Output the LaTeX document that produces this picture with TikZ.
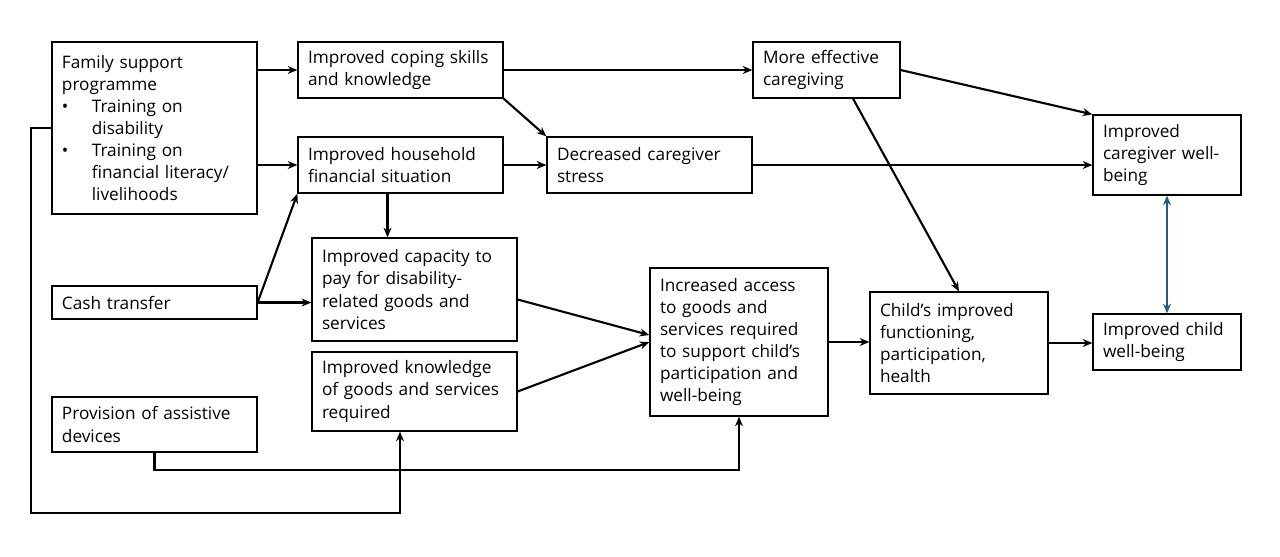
\documentclass[tikz,border=0pt]{standalone}
\usepackage{fontspec}
\setmainfont{Open Sans}
\usetikzlibrary{arrows.meta,calc}
\definecolor{bluearr}{RGB}{31,94,126}
\newcommand\bx[6]{%
  \pgfmathsetmacro\bxw{(#4-#2)*0.02}%
  \pgfmathsetmacro\bxh{(#5-#3)*0.02}%
  \pgfmathsetmacro\bxt{(#4-#2-20)*0.02}%
  \node[box,minimum width=\bxw cm,minimum height=\bxh cm,text width=\bxt cm] (#1) at ({(#2+#4)/2},{(#3+#5)/2}) {#6};}
\newcommand\bl{\makebox[17pt][l]{\textbullet}}
\newcommand\ind{\hspace*{17pt}}
\begin{document}
\begin{tikzpicture}[x=0.02cm,y=-0.02cm,
  box/.style={draw,line width=0.7pt,rectangle,align=left,inner xsep=0.2cm,inner ysep=0pt,font=\fontsize{9.8pt}{12.6pt}\selectfont},
  arr/.style={line width=1.2pt,-{Stealth[length=5.5pt,width=4.5pt]}},
  barr/.style={line width=1.2pt,bluearr,{Stealth[length=5.5pt,width=4.5pt]}-{Stealth[length=5.5pt,width=4.5pt]}}]
\useasboundingbox[fill=white] (0,0) rectangle (1280,556);
\bx{fam}{52}{42}{257}{214}{Family support\\programme\\\bl Training on\\\ind disability\\\bl Training on\\\ind financial literacy/\\\ind livelihoods}
\bx{coping}{298}{42}{503}{98}{Improved coping skills\\and knowledge}
\bx{more}{753}{42}{900}{98}{More effective\\caregiving}
\bx{hh}{298}{137}{503}{193}{Improved household\\financial situation}
\bx{stress}{547}{137}{752}{193}{Decreased caregiver\\stress}
\bx{cgwb}{1093}{115}{1241}{195}{Improved\\caregiver well-\\being}
\bx{cash}{52}{286}{257}{319}{Cash transfer}
\bx{cap}{312}{238}{517}{341}{Improved capacity to\\pay for disability-\\related goods and\\services}
\bx{know}{312}{352}{517}{431}{Improved knowledge\\of goods and services\\required}
\bx{assist}{52}{397}{257}{452}{Provision of assistive\\devices}
\bx{access}{650}{268}{828}{416}{Increased access\\to goods and\\services required\\to support child’s\\participation and\\well-being}
\bx{child}{870}{292}{1048}{394}{Child’s improved\\functioning,\\participation,\\health}
\bx{cwb}{1093}{314}{1241}{370}{Improved child\\well-being}
% connectors
\draw[arr] (fam.east |- coping.west) -- (coping.west);
\draw[arr] (fam.east |- hh.west) -- (hh.west);
\draw[arr] (coping.east) -- (more.west |- coping.east);
\draw[arr] (coping.south east) -- (stress.north west);
\draw[arr] (hh.east) -- (stress.west |- hh.east);
\draw[arr] ([shift={(-13,0)}]hh.south) -- ([shift={(-13,0)}]hh.south |- cap.north);
\draw[arr] (cash.east) -- (hh.south west);
\draw[arr] (cash.east) -- (cap.west |- cash.east);
\draw[arr] ([shift={(0,10)}]cap.east) -- ([shift={(0,-7)}]access.west);
\draw[arr] (know.east) -- (access.west);
\draw[arr] (access.east) -- (child.west |- access.east);
\draw[arr] (child.east) -- (cwb.west |- child.east);
\draw[arr] (more.east) -- (cgwb.north west);
\draw[arr] ([shift={(26.5,0)}]more.south) -- (child.north);
\draw[arr] (stress.east) -- (cgwb.west |- stress.east);
\draw[barr] (cgwb.south) -- (cwb.north);
\draw[arr] (assist.south) -- ++(0,17) -| (access.south);
\draw[arr] (fam.west) -- ++(-20,0) |- ([shift={(-14.5,81)}]know.south) -- ([shift={(-14.5,0)}]know.south);
\end{tikzpicture}
\end{document}
